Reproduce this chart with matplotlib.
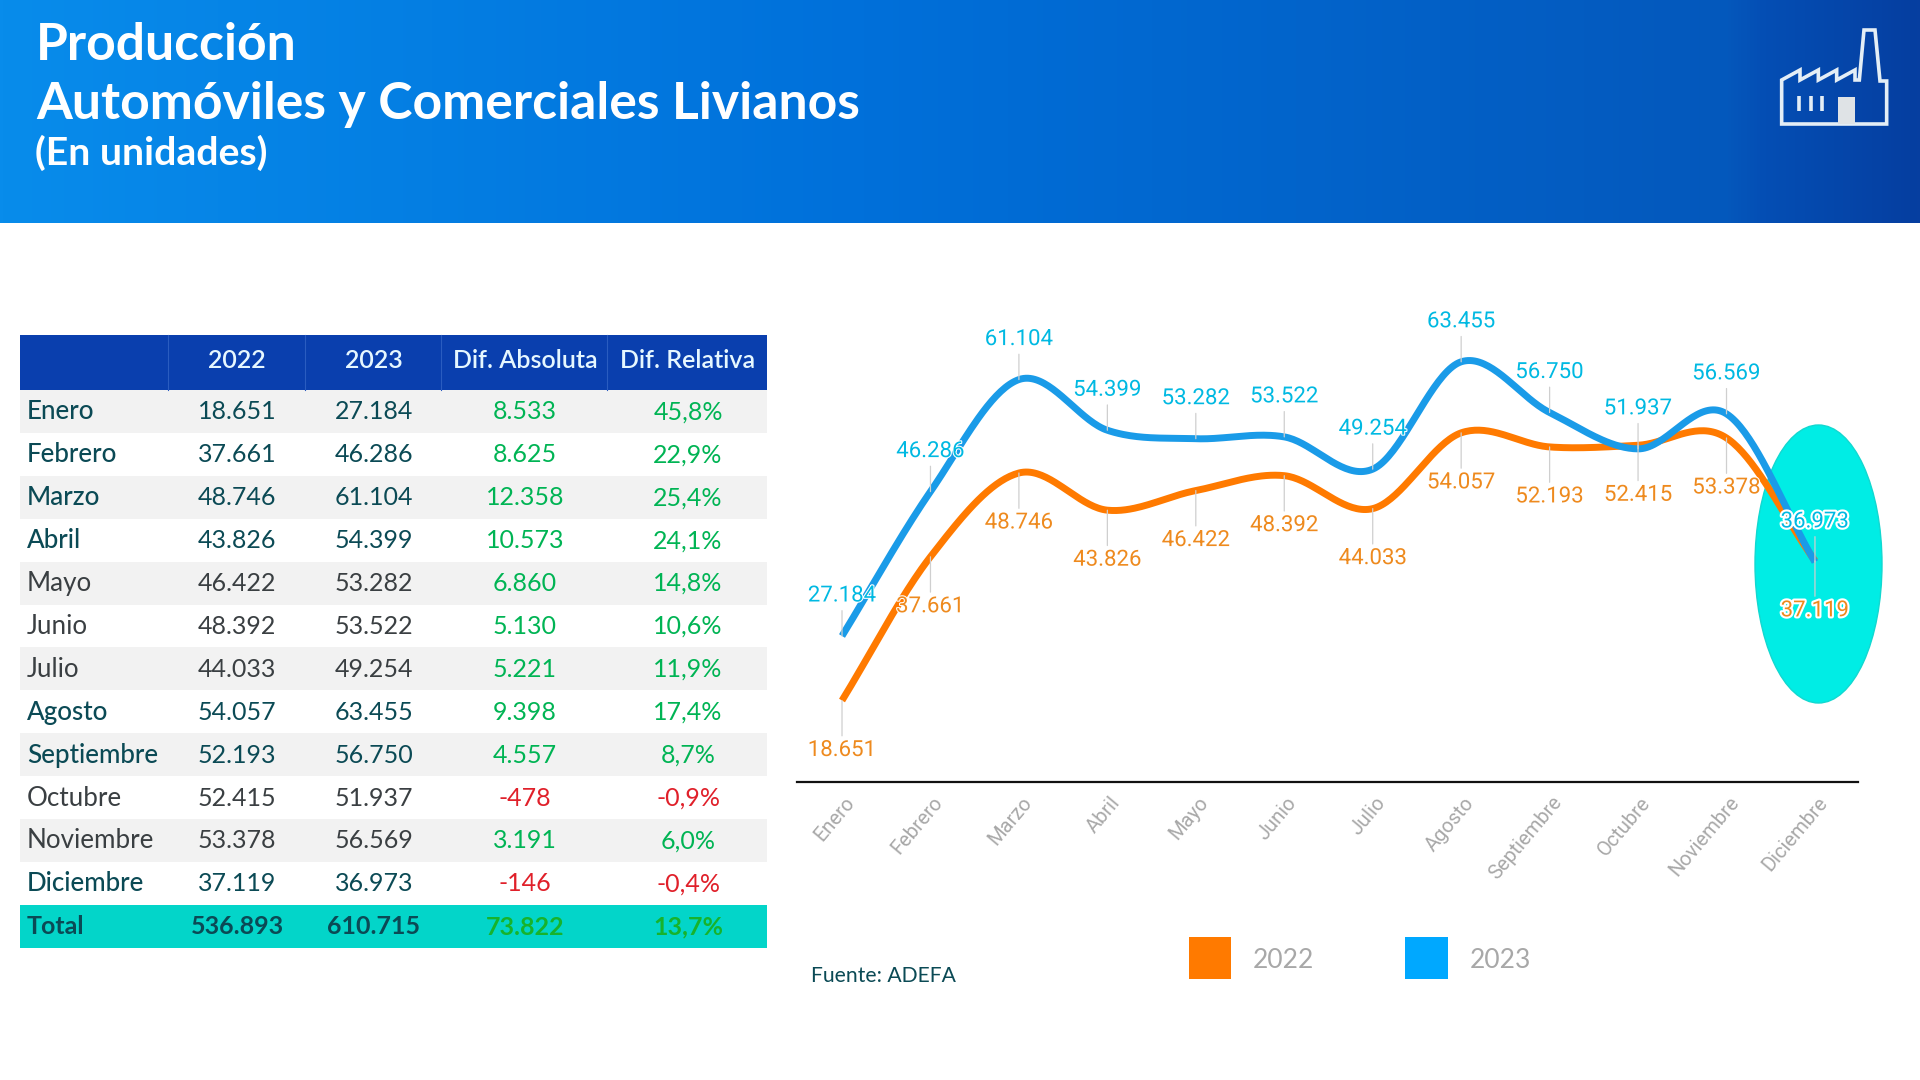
import numpy as np
import matplotlib
matplotlib.use("Agg")
import matplotlib.pyplot as plt
import matplotlib.patheffects as pe
from matplotlib.patches import Ellipse, Polygon, Rectangle
from matplotlib.transforms import ScaledTranslation

months = ["Enero", "Febrero", "Marzo", "Abril", "Mayo", "Junio", "Julio", "Agosto",
          "Septiembre", "Octubre", "Noviembre", "Diciembre"]
prod_2022 = [18651, 37661, 48746, 43826, 46422, 48392, 44033, 54057, 52193, 52415, 53378, 37119]
prod_2023 = [27184, 46286, 61104, 54399, 53282, 53522, 49254, 63455, 56750, 51937, 56569, 36973]
dif_abs = [8533, 8625, 12358, 10573, 6860, 5130, 5221, 9398, 4557, -478, 3191, -146]
dif_rel = [45.8, 22.9, 25.4, 24.1, 14.8, 10.6, 11.9, 17.4, 8.7, -0.9, 6.0, -0.4]
total = [536893, 610715, 73822, 13.7]
headers = ["", "2022", "2023", "Dif. Absoluta", "Dif. Relativa"]

W, H = 1920, 1080
TEAL = "#0b4a55"
DARK = "#3a3f42"
GREEN = "#00b454"
RED = "#e0202a"
ORANGE = "#ff7a00"
BLUE = "#1a9be8"
name_colors = [TEAL, TEAL, TEAL, TEAL, DARK, DARK, DARK, TEAL, TEAL, DARK, DARK, TEAL]

plt.rcParams["font.family"] = ["Lato", "DejaVu Sans"]


def fmt_int(v):
    return f"{v:,}".replace(",", ".")


def fmt_pct(v):
    return f"{v:.1f}".replace(".", ",") + "%"


def smooth(xs, ys, n=40):
    # catmull-rom through the points, just so the line looks like the original
    xs = np.asarray(xs, dtype=float)
    ys = np.asarray(ys, dtype=float)
    px = np.concatenate([[2 * xs[0] - xs[1]], xs, [2 * xs[-1] - xs[-2]]])
    py = np.concatenate([[2 * ys[0] - ys[1]], ys, [2 * ys[-1] - ys[-2]]])
    t = np.linspace(0, 1, n)[:, None]
    out = []
    for i in range(1, len(px) - 2):
        p0, p1, p2, p3 = [np.array([px[j], py[j]]) for j in (i - 1, i, i + 1, i + 2)]
        out.append(0.5 * (2 * p1 + (p2 - p0) * t + (2 * p0 - 5 * p1 + 4 * p2 - p3) * t ** 2
                          + (3 * p1 - p0 - 3 * p2 + p3) * t ** 3))
    out = np.vstack(out)
    return out[:, 0], out[:, 1]


fig = plt.figure(figsize=(W / 100, H / 100), dpi=100)
bg = fig.add_axes([0, 0, 1, 1])
bg.set_xlim(0, W)
bg.set_ylim(H, 0)
bg.axis("off")

# header band
stops_x = [0, 0.45, 0.9, 0.92, 1]
stops = np.array([[8, 140, 235], [0, 112, 218], [4, 88, 188], [4, 78, 180], [6, 62, 160]]) / 255
xx = np.linspace(0, 1, 600)
grad = np.stack([np.interp(xx, stops_x, stops[:, c]) for c in range(3)], axis=1)[None, :, :]
bg.imshow(grad, extent=[0, W, 223, 0], aspect="auto", zorder=0)
bg.set_xlim(0, W)
bg.set_ylim(H, 0)

bg.text(36, 45, "Producción", color="white", fontsize=37.2, fontweight="bold", va="center")
bg.text(36, 104, "Automóviles y Comerciales Livianos", color="white", fontsize=37.2,
        fontweight="bold", va="center")
bg.text(35, 153, "(En unidades)", color="white", fontsize=28.3, fontweight="bold", va="center")

# factory icon
ix = lambda v: 1700 + v / 3
iy = lambda v: v / 3
outline = [(245, 372), (245, 240), (300, 210), (300, 240), (355, 210), (355, 240), (410, 210),
           (410, 240), (465, 210), (465, 240), (478, 240), (492, 90), (525, 90), (540, 243),
           (560, 243), (560, 372)]
bg.add_patch(Polygon([(ix(a), iy(b)) for a, b in outline], closed=True, fill=False,
                     ec="#e4eef6", lw=2.6, joinstyle="miter", zorder=3))
for wx in (298, 333, 366):
    bg.plot([ix(wx), ix(wx)], [iy(288), iy(332)], color="#e4eef6", lw=2.6, zorder=3,
            solid_capstyle="butt")
bg.add_patch(Rectangle((ix(415), iy(290)), 50 / 3, 82 / 3, fc="#dfe3e6", ec="none", zorder=3))

# table
col_edges = [20, 168, 305, 441, 607, 767]
col_centers = [27, 237, 374, 525, 688]
head_top, head_bot = 335, 390
row_h = 42.9
bg.add_patch(Rectangle((col_edges[0], head_top), col_edges[-1] - col_edges[0], head_bot - head_top,
                       fc="#0a3fae", ec="none", zorder=1))
for e in col_edges[1:-1]:
    bg.plot([e, e], [head_top, head_bot], color="#2a5cc0", lw=0.8, zorder=2)
for c, h in zip(col_centers[1:], headers[1:]):
    bg.text(c, 361, h, color="#e6f7ff", fontsize=18, fontweight="semibold", ha="center", va="center")

for i, m in enumerate(months):
    top = head_bot + i * row_h
    cy = top + row_h / 2 + 0.5
    if i % 2 == 0:
        bg.add_patch(Rectangle((col_edges[0], top), col_edges[-1] - col_edges[0], row_h,
                               fc="#f2f2f2", ec="none", zorder=1))
    bg.text(col_centers[0], cy, m, color=name_colors[i], fontsize=18.7, va="center",
            fontweight="medium" if name_colors[i] == TEAL else "normal")
    bg.text(col_centers[1], cy, fmt_int(prod_2022[i]), color=name_colors[i], fontsize=18,
            ha="center", va="center")
    bg.text(col_centers[2], cy, fmt_int(prod_2023[i]), color=name_colors[i], fontsize=18,
            ha="center", va="center")
    dcol = GREEN if dif_abs[i] >= 0 else RED
    bg.text(col_centers[3], cy, fmt_int(dif_abs[i]), color=dcol, fontsize=18, ha="center", va="center")
    bg.text(col_centers[4], cy, fmt_pct(dif_rel[i]), color=dcol, fontsize=18, ha="center", va="center")

top = head_bot + 12 * row_h
cy = top + row_h / 2
bg.add_patch(Rectangle((col_edges[0], top), col_edges[-1] - col_edges[0], row_h,
                       fc="#03d5c9", ec="none", zorder=1))
bg.text(col_centers[0], cy, "Total", color=TEAL, fontsize=18, fontweight="bold", va="center")
bg.text(col_centers[1], cy, fmt_int(total[0]), color=TEAL, fontsize=18, fontweight="bold",
        ha="center", va="center")
bg.text(col_centers[2], cy, fmt_int(total[1]), color=TEAL, fontsize=18, fontweight="bold",
        ha="center", va="center")
bg.text(col_centers[3], cy + 1, fmt_int(total[2]), color="#17b32c", fontsize=18, fontweight="bold",
        ha="center", va="center")
bg.text(col_centers[4], cy + 1, fmt_pct(total[3]), color="#17b32c", fontsize=18, fontweight="bold",
        ha="center", va="center")

# highlight behind december
bg.add_patch(Ellipse((1818.5, 564), 127, 278, fc="#00ede5", ec="#12d8d0", lw=1, zorder=1))

# source + legend
bg.text(811, 976, "Fuente: ADEFA", color=TEAL, fontsize=15.2, va="center")
bg.add_patch(Rectangle((1189, 937), 42, 42, fc=ORANGE, ec="none"))
bg.add_patch(Rectangle((1405, 937), 43, 42, fc="#00a8ff", ec="none"))
bg.text(1253, 961, "2022", color="#a8a8a8", fontsize=19, fontweight="normal", va="center")
bg.text(1470, 961, "2023", color="#a8a8a8", fontsize=19, fontweight="normal", va="center")

# line chart
left, right, ax_top, ax_bot = 796.9, 1858.3, 300, 782
ax = fig.add_axes([left / W, 1 - ax_bot / H, (right - left) / W, (ax_bot - ax_top) / H])
ax.patch.set_alpha(0)
x = np.arange(len(months))
ax.set_xlim(-0.51, 11.49)
ax.set_ylim(7870, 71630)

for vals, color in ((prod_2022, ORANGE), (prod_2023, BLUE)):
    sx, sy = smooth(x, vals)
    ax.plot(sx, sy, color=color, lw=5, solid_capstyle="butt", zorder=3, clip_on=False)

for vals, color, offset in ((prod_2022, "#ee8a1e", -50), (prod_2023, "#00b9e2", 40)):
    for i, v in enumerate(vals):
        halo = 3 if i == len(vals) - 1 else 1.5
        t = ax.annotate(fmt_int(v), xy=(i, v), xytext=(0, offset), textcoords="offset pixels",
                        ha="center", va="center", color=color, fontsize=16, family="Roboto",
                        zorder=5, annotation_clip=False,
                        arrowprops=dict(arrowstyle="-", color="#cfcfcf", lw=0.9, shrinkA=1, shrinkB=0))
        t.set_path_effects([pe.withStroke(linewidth=halo, foreground="white")])

for s in ("top", "left", "right"):
    ax.spines[s].set_visible(False)
ax.spines["bottom"].set_linewidth(1.6)
ax.spines["bottom"].set_color("#111111")
ax.set_yticks([])
ax.set_xticks(x)
ax.set_xticklabels(months, rotation=50, ha="right", rotation_mode="anchor", color="#a8a8a8",
                   fontsize=14.5, family="Roboto")
ax.tick_params(axis="x", length=0, pad=8)
nudge = ScaledTranslation(2 / 100, 0, fig.dpi_scale_trans)
for lab in ax.get_xticklabels():
    lab.set_transform(lab.get_transform() + nudge)

fig.savefig("out.png", dpi=100)
